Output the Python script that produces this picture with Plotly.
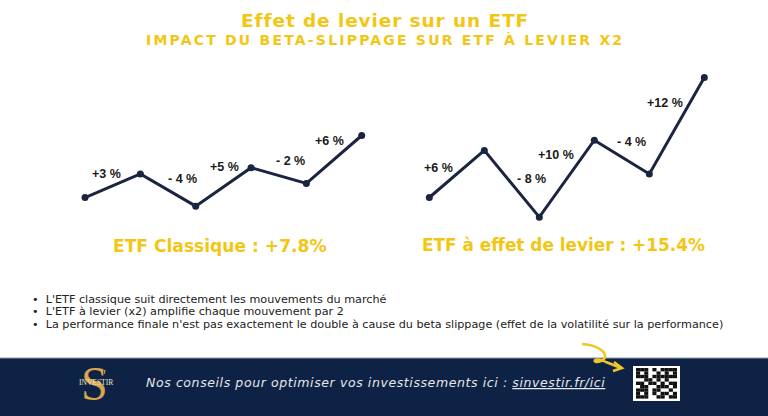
import plotly.graph_objects as go

# ---------------- data ----------------
steps = [0, 1, 2, 3, 4, 5]
classic_values = [100, 103, 98.9, 103.8, 101.8, 107.9]
classic_labels = ["+3 %", "- 4 %", "+5 %", "- 2 %", "+6 %"]
lev_values = [100, 106, 97.5, 107.3, 103.0, 115.3]
lev_labels = ["+6 %", "- 8 %", "+10 %", "- 4 %", "+12 %"]
classic_total = "ETF Classique : +7.8%"
lev_total = "ETF à effet de levier : +15.4%"
title = "Effet de levier sur un ETF"
subtitle = "IMPACT DU BETA-SLIPPAGE SUR ETF À LEVIER X2"
bullets = [
    "L'ETF classique suit directement les mouvements du marché",
    "L'ETF à levier (x2) amplifie chaque mouvement par 2",
    "La performance finale n'est pas exactement le double à cause du beta slippage (effet de la volatilité sur la performance)",
]
footer_text = "Nos conseils pour optimiser vos investissements ici : "
footer_link = "sinvestir.fr/ici"

# ---------------- styles ----------------
NAVY = "#1b2440"
YELLOW = "#F3C614"
FOOT = "#0e2245"
GOLD = "#d9a64e"
classic_shift = [(-6, 12), (14, 11), (1, 20), (12, 15), (-5, 18)]
lev_shift = [(-18, 6), (20, 5), (-11, 24), (10, 15), (-12, 23)]


def spaced(t, px):
    return '<span style="letter-spacing:%spx">%s</span>' % (px, t)


fig = go.Figure()
fig.add_trace(go.Scatter(x=steps, y=classic_values, mode="lines+markers",
                         line=dict(color=NAVY, width=3), marker=dict(size=7, color=NAVY),
                         xaxis="x", yaxis="y", cliponaxis=False, hoverinfo="skip"))
fig.add_trace(go.Scatter(x=steps, y=lev_values, mode="lines+markers",
                         line=dict(color=NAVY, width=3), marker=dict(size=7, color=NAVY),
                         xaxis="x2", yaxis="y2", cliponaxis=False, hoverinfo="skip"))

ann = []
lab_font = dict(family="Liberation Sans, Arial", size=12.5, color="#1a1a1a")
for (vals, labs, shifts, xr, yr) in [(classic_values, classic_labels, classic_shift, "x", "y"),
                                      (lev_values, lev_labels, lev_shift, "x2", "y2")]:
    for i, lab in enumerate(labs):
        ann.append(dict(x=steps[i] + 0.5, y=(vals[i] + vals[i + 1]) / 2, xref=xr, yref=yr,
                        text="<b>" + lab + "</b>", showarrow=False, font=lab_font,
                        xshift=shifts[i][0], yshift=shifts[i][1]))

H = dict(family="DejaVu Sans", color=YELLOW, weight="bold")
ann.append(dict(x=385, y=20.5, xref="x3", yref="y3", text=spaced(title, 0.9), showarrow=False,
                font=dict(H, size=18.5)))
ann.append(dict(x=385, y=40, xref="x3", yref="y3", text=spaced(subtitle, 2.2), showarrow=False,
                font=dict(H, size=14)))
ann.append(dict(x=220, y=246, xref="x3", yref="y3", text=classic_total, showarrow=False,
                font=dict(H, size=17.1)))
ann.append(dict(x=563, y=245, xref="x3", yref="y3", text=lev_total, showarrow=False,
                font=dict(H, size=16.9)))

for k, b in enumerate(bullets):
    ann.append(dict(x=30, y=299 + 12.5 * k, xref="x3", yref="y3", xanchor="left",
                    text="•  " + b, showarrow=False,
                    font=dict(family="DejaVu Sans", size=11.2, color="#222222")))

ann.append(dict(x=144, y=382, xref="x3", yref="y3", xanchor="left",
                text="<i>" + spaced(footer_text, 0.6) + "<u>" + spaced(footer_link, 0.6) + "</u></i>",
                showarrow=False,
                font=dict(family="DejaVu Sans", size=12.5, color="#e6e8ee")))
# logo
ann.append(dict(x=94, y=383, xref="x3", yref="y3", text="S", showarrow=False,
                font=dict(family="Liberation Serif, DejaVu Serif", size=48, color=GOLD)))
ann.append(dict(x=104, y=375, xref="x3", yref="y3", text="'", showarrow=False,
                font=dict(family="Liberation Serif, DejaVu Serif", size=16, color=GOLD)))
ann.append(dict(x=96, y=382, xref="x3", yref="y3", text="INVESTIR", showarrow=False,
                font=dict(family="Liberation Serif, DejaVu Serif", size=7.5, color="#ece2c8")))

shapes = [
    dict(type="rect", xref="x3", yref="y3", x0=0, x1=768, y0=358, y1=416,
         fillcolor=FOOT, line=dict(width=0), layer="below"),
    dict(type="line", xref="x3", yref="y3", x0=0, x1=768, y0=358, y1=358,
         line=dict(color="#8f98a8", width=1)),
    # QR block
    dict(type="rect", xref="x3", yref="y3", x0=633, x1=680, y0=366, y1=401,
         fillcolor="white", line=dict(width=0)),
    # arrow
    dict(type="path", xref="x3", yref="y3",
         path="M582,344 C600,345 612,356 601,361 C591,365 593,355 606,362 L621,368",
         line=dict(color="#EFC72A", width=2.5)),
    dict(type="path", xref="x3", yref="y3", path="M614,362 L622,368 L613,371",
         line=dict(color="#EFC72A", width=2.5)),
]
# QR pattern (decorative)
qr = ["1110101111", "1010010101", "1110111111", "0011010100", "1101101011",
      "0110011101", "1110110010", "1010101101", "1110011011"]
cw, ch = 4.1, 3.4
for r, row in enumerate(qr):
    for c, bit in enumerate(row):
        if bit == "1":
            shapes.append(dict(type="rect", xref="x3", yref="y3",
                               x0=636 + c * cw, x1=636 + (c + 1) * cw,
                               y0=368 + r * ch, y1=368 + (r + 1) * ch,
                               fillcolor="#111111", line=dict(width=0)))

ax = dict(visible=False, fixedrange=True)
fig.update_layout(
    width=768, height=416, margin=dict(l=0, r=0, t=0, b=0),
    paper_bgcolor="white", plot_bgcolor="rgba(0,0,0,0)", showlegend=False,
    xaxis=dict(ax, domain=[0.0747, 0.5070], range=[-0.5, 5.5], anchor="y"),
    yaxis=dict(ax, domain=[0.4471, 0.8558], range=[95.86, 117.52], anchor="x"),
    xaxis2=dict(ax, domain=[0.5232, 0.9529], range=[-0.5, 5.5], anchor="y2"),
    yaxis2=dict(ax, domain=[0.4471, 0.8558], range=[95.86, 117.52], anchor="x2"),
    xaxis3=dict(ax, domain=[0, 1], range=[0, 768], anchor="y3"),
    yaxis3=dict(ax, domain=[0, 1], range=[416, 0], anchor="x3"),
    annotations=ann, shapes=shapes,
)
fig.write_html("out.html")
